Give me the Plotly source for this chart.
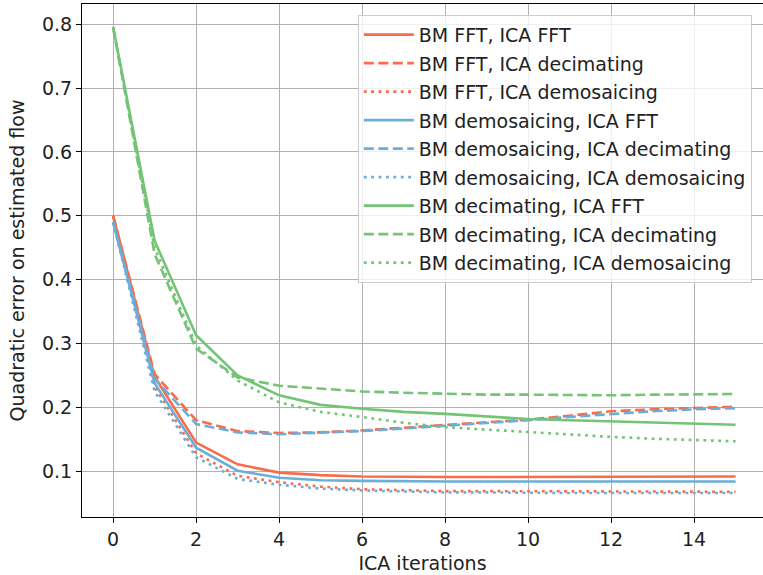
import plotly.graph_objects as go

iterations = list(range(16))

bm_fft_ica_fft = [0.500, 0.248, 0.145, 0.111, 0.098, 0.094, 0.092, 0.091, 0.091, 0.091, 0.091, 0.091, 0.091, 0.091, 0.092, 0.092]
bm_fft_ica_dec = [0.500, 0.252, 0.180, 0.163, 0.160, 0.161, 0.164, 0.168, 0.172, 0.176, 0.181, 0.187, 0.194, 0.197, 0.199, 0.201]
bm_fft_ica_dem = [0.500, 0.232, 0.128, 0.093, 0.083, 0.076, 0.072, 0.070, 0.069, 0.069, 0.069, 0.068, 0.068, 0.068, 0.068, 0.068]
bm_dem_ica_fft = [0.490, 0.238, 0.137, 0.101, 0.090, 0.086, 0.085, 0.084, 0.084, 0.084, 0.084, 0.084, 0.084, 0.084, 0.084, 0.084]
bm_dem_ica_dec = [0.490, 0.245, 0.174, 0.161, 0.158, 0.160, 0.163, 0.167, 0.171, 0.175, 0.180, 0.185, 0.190, 0.194, 0.197, 0.199]
bm_dem_ica_dem = [0.490, 0.225, 0.122, 0.088, 0.079, 0.073, 0.070, 0.068, 0.067, 0.067, 0.066, 0.066, 0.066, 0.066, 0.066, 0.066]
bm_dec_ica_fft = [0.795, 0.461, 0.313, 0.250, 0.219, 0.204, 0.198, 0.193, 0.190, 0.186, 0.182, 0.180, 0.178, 0.176, 0.174, 0.173]
bm_dec_ica_dec = [0.795, 0.440, 0.292, 0.247, 0.234, 0.229, 0.225, 0.223, 0.221, 0.220, 0.220, 0.219, 0.219, 0.220, 0.221, 0.221]
bm_dec_ica_dem = [0.795, 0.450, 0.297, 0.242, 0.208, 0.193, 0.185, 0.176, 0.169, 0.165, 0.161, 0.157, 0.154, 0.151, 0.149, 0.147]

series_names = [
    "BM FFT, ICA FFT", "BM FFT, ICA decimating", "BM FFT, ICA demosaicing",
    "BM demosaicing, ICA FFT", "BM demosaicing, ICA decimating", "BM demosaicing, ICA demosaicing",
    "BM decimating, ICA FFT", "BM decimating, ICA decimating", "BM decimating, ICA demosaicing",
]
series_values = [
    bm_fft_ica_fft, bm_fft_ica_dec, bm_fft_ica_dem,
    bm_dem_ica_fft, bm_dem_ica_dec, bm_dem_ica_dem,
    bm_dec_ica_fft, bm_dec_ica_dec, bm_dec_ica_dem,
]
x_ticks = [0, 2, 4, 6, 8, 10, 12, 14]
y_ticks = [0.1, 0.2, 0.3, 0.4, 0.5, 0.6, 0.7, 0.8]

colors = ["#fb6a4a"] * 3 + ["#6baed6"] * 3 + ["#74c476"] * 3
dashes = ["solid", "10px,4.5px", "2.8px,4.6px"] * 3

fig = go.Figure()
for i, (name, vals) in enumerate(zip(series_names, series_values)):
    fig.add_trace(go.Scatter(
        x=iterations, y=vals, name=name, mode="lines",
        line=dict(color=colors[i], width=2.6, dash=dashes[i]),
        legendgroup=f"g{i}",
    ))

font_family = "DejaVu Sans"
FS = 19
axis_common = dict(
    showline=True, linecolor="black", linewidth=1.2, mirror=True,
    ticks="outside", ticklen=5, tickcolor="black", tickwidth=1.2,
    showgrid=True, gridcolor="#b0b0b0", gridwidth=1.2, zeroline=False,
    tickfont=dict(family=font_family, size=FS, color="#222222"),
    automargin=False,
)

fig.update_layout(
    width=763, height=575,
    margin=dict(l=82, r=0, t=4, b=58, autoexpand=False),
    plot_bgcolor="white", paper_bgcolor="white",
    font=dict(family=font_family, size=FS, color="#222222"),
    xaxis=dict(range=[-0.75, 15.66], tickvals=x_ticks,
               title=dict(text="ICA iterations", font=dict(size=FS), standoff=7),
               **axis_common),
    yaxis=dict(range=[0.0285, 0.8315], tickvals=y_ticks,
               title=dict(text="Quadratic error on estimated flow", font=dict(size=FS), standoff=12),
               **axis_common),
    legend=dict(
        x=0.405, y=0.979, xanchor="left", yanchor="top",
        bgcolor="rgba(255,255,255,0.8)", bordercolor="#cccccc", borderwidth=1,
        font=dict(family=font_family, size=FS, color="#222222"),
        tracegroupgap=0.8, traceorder="grouped", itemwidth=50,
    ),
    showlegend=True,
)

fig.write_html(
    "out.html",
    config={"displayModeBar": False},
    post_script="document.body.style.margin='0';document.body.style.overflow='hidden';",
)
